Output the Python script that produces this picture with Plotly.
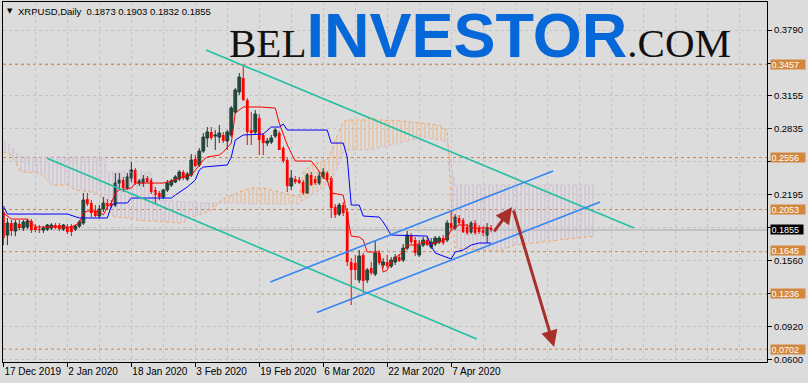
import pandas as pd
import plotly.graph_objects as go

# ---------------- data ----------------
start_date = "2019-12-17"

opens = [
    0.2029, 0.1806, 0.1922, 0.1845, 0.1913, 0.1874, 0.1884, 0.1942, 0.1884, 0.1864,
    0.1855, 0.1864, 0.1874, 0.1903, 0.1903, 0.1864, 0.1884, 0.1893, 0.1864, 0.1893,
    0.1922, 0.2154, 0.2116, 0.2038, 0.1990, 0.2058, 0.2116, 0.2116, 0.2096, 0.2309,
    0.2338, 0.2261, 0.2358, 0.2435, 0.2309, 0.2309, 0.2358, 0.2338, 0.2242, 0.2213,
    0.2174, 0.2242, 0.2290, 0.2319, 0.2348, 0.2416, 0.2348, 0.2387, 0.2542, 0.2484,
    0.2619, 0.2745, 0.2803, 0.2764, 0.2754, 0.2774, 0.2716, 0.2774, 0.2996, 0.3190,
    0.3325, 0.3112, 0.2822, 0.2803, 0.2938, 0.2774, 0.2696, 0.2706, 0.2764, 0.2793,
    0.2648, 0.2532, 0.2280, 0.2348, 0.2338, 0.2319, 0.2213, 0.2387, 0.2348, 0.2309,
    0.2368, 0.2406, 0.2358, 0.2077, 0.2009, 0.2096, 0.2029, 0.1545, 0.1535, 0.1371,
    0.1613, 0.1371, 0.1487, 0.1429, 0.1632, 0.1516, 0.1545, 0.1506, 0.1545, 0.1593,
    0.1564, 0.1680, 0.1806, 0.1758, 0.1613, 0.1709, 0.1758, 0.1690, 0.1719, 0.1738,
    0.1777, 0.1758, 0.1922, 0.1874, 0.1971, 0.1951, 0.1884, 0.1835, 0.1922, 0.1874,
    0.1855, 0.1806, 0.1873,
]
highs = [
    0.2067, 0.1971, 0.1951, 0.1951, 0.1951, 0.1951, 0.1961, 0.1961, 0.1913, 0.1903,
    0.1893, 0.1913, 0.1922, 0.1922, 0.1922, 0.1913, 0.1913, 0.1913, 0.1903, 0.1951,
    0.2213, 0.2213, 0.2145, 0.2096, 0.2096, 0.2174, 0.2154, 0.2145, 0.2406, 0.2406,
    0.2368, 0.2406, 0.2513, 0.2454, 0.2348, 0.2387, 0.2377, 0.2358, 0.2271, 0.2232,
    0.2251, 0.2338, 0.2348, 0.2387, 0.2435, 0.2435, 0.2416, 0.2590, 0.2580, 0.2648,
    0.2793, 0.2851, 0.2851, 0.2822, 0.2871, 0.2803, 0.2822, 0.3054, 0.3229, 0.3374,
    0.3450, 0.3132, 0.2996, 0.3016, 0.2977, 0.2793, 0.2745, 0.2774, 0.2841, 0.2812,
    0.2667, 0.2551, 0.2435, 0.2377, 0.2368, 0.2338, 0.2406, 0.2416, 0.2377, 0.2416,
    0.2454, 0.2425, 0.2377, 0.2106, 0.2116, 0.2125, 0.2067, 0.1584, 0.1613, 0.1661,
    0.1632, 0.1487, 0.1545, 0.1758, 0.1661, 0.1584, 0.1613, 0.1593, 0.1622, 0.1622,
    0.1719, 0.1845, 0.1826, 0.1787, 0.1758, 0.1787, 0.1787, 0.1777, 0.1796, 0.1796,
    0.1806, 0.1951, 0.2048, 0.2009, 0.2000, 0.1971, 0.1913, 0.1942, 0.1951, 0.1903,
    0.1893, 0.1922, 0.1903,
]
lows = [
    0.1709, 0.1709, 0.1796, 0.1796, 0.1855, 0.1845, 0.1864, 0.1826, 0.1835, 0.1826,
    0.1826, 0.1845, 0.1855, 0.1864, 0.1845, 0.1845, 0.1816, 0.1796, 0.1845, 0.1874,
    0.1903, 0.2087, 0.1980, 0.1980, 0.1971, 0.2029, 0.2048, 0.2067, 0.2077, 0.2242,
    0.2222, 0.2242, 0.2319, 0.2290, 0.2280, 0.2271, 0.2309, 0.2203, 0.2116, 0.2145,
    0.2154, 0.2222, 0.2271, 0.2309, 0.2329, 0.2338, 0.2329, 0.2368, 0.2464, 0.2464,
    0.2600, 0.2658, 0.2725, 0.2629, 0.2696, 0.2696, 0.2629, 0.2754, 0.2977, 0.3161,
    0.3103, 0.2677, 0.2677, 0.2783, 0.2580, 0.2580, 0.2667, 0.2687, 0.2745, 0.2629,
    0.2503, 0.2222, 0.2242, 0.2300, 0.2300, 0.2193, 0.2203, 0.2280, 0.2290, 0.2290,
    0.2348, 0.2319, 0.1971, 0.1971, 0.1990, 0.1990, 0.1506, 0.1129, 0.1371, 0.1342,
    0.1245, 0.1342, 0.1419, 0.1409, 0.1516, 0.1487, 0.1487, 0.1487, 0.1516, 0.1545,
    0.1545, 0.1661, 0.1719, 0.1603, 0.1593, 0.1690, 0.1700, 0.1671, 0.1700, 0.1719,
    0.1709, 0.1738, 0.1855, 0.1855, 0.1903, 0.1826, 0.1806, 0.1816, 0.1806, 0.1816,
    0.1796, 0.1729, 0.1832,
]
closes = [
    0.1777, 0.1922, 0.1845, 0.1922, 0.1874, 0.1932, 0.1942, 0.1855, 0.1855, 0.1855,
    0.1874, 0.1903, 0.1903, 0.1874, 0.1864, 0.1903, 0.1835, 0.1835, 0.1893, 0.1932,
    0.2145, 0.2106, 0.2019, 0.1990, 0.2058, 0.2116, 0.2087, 0.2087, 0.2309, 0.2338,
    0.2261, 0.2368, 0.2435, 0.2309, 0.2329, 0.2348, 0.2319, 0.2222, 0.2193, 0.2174,
    0.2242, 0.2309, 0.2329, 0.2368, 0.2416, 0.2358, 0.2396, 0.2532, 0.2474, 0.2619,
    0.2754, 0.2803, 0.2745, 0.2774, 0.2793, 0.2716, 0.2803, 0.3035, 0.3209, 0.3335,
    0.3112, 0.2803, 0.2793, 0.2977, 0.2725, 0.2696, 0.2716, 0.2745, 0.2822, 0.2629,
    0.2522, 0.2280, 0.2358, 0.2319, 0.2309, 0.2213, 0.2387, 0.2290, 0.2309, 0.2377,
    0.2416, 0.2338, 0.2067, 0.2000, 0.2096, 0.2019, 0.1545, 0.1468, 0.1468, 0.1603,
    0.1361, 0.1468, 0.1439, 0.1632, 0.1535, 0.1545, 0.1506, 0.1564, 0.1593, 0.1555,
    0.1680, 0.1806, 0.1738, 0.1632, 0.1709, 0.1758, 0.1709, 0.1738, 0.1777, 0.1777,
    0.1729, 0.1922, 0.1874, 0.1980, 0.1922, 0.1835, 0.1826, 0.1922, 0.1826, 0.1835,
    0.1826, 0.1874, 0.1855,
]

# Ichimoku lines (vertices: day offset from start, price)
tenkan_day = [0, 2, 6, 7, 8, 17, 19, 20, 21, 24, 25, 26, 27, 28, 29, 32, 33, 40, 42, 44,
              47, 48, 49, 50, 51, 54, 55, 57, 58, 59, 60, 64, 68, 69, 70, 71, 73, 77, 78, 80,
              81, 82, 85, 86, 87, 89, 90, 91, 94, 95, 96, 97, 98, 100, 101, 103, 105, 107, 109, 111,
              112, 114, 116, 117, 122]
tenkan_val = [0.2019, 0.1961, 0.1961, 0.1922, 0.1884, 0.1884, 0.1922, 0.2019, 0.2038, 0.2038,
              0.2000, 0.2077, 0.2116, 0.2213, 0.2242, 0.2261, 0.2309, 0.2309, 0.2329, 0.2358,
              0.2387, 0.2435, 0.2484, 0.2532, 0.2561, 0.2580, 0.2609, 0.2696, 0.2987, 0.3016,
              0.3045, 0.3045, 0.3035, 0.2890, 0.2793, 0.2677, 0.2522, 0.2522, 0.2474, 0.2368,
              0.2338, 0.2213, 0.2193, 0.2000, 0.1796, 0.1787, 0.1758, 0.1642, 0.1642, 0.1448,
              0.1467, 0.1545, 0.1584, 0.1642, 0.1709, 0.1709, 0.1738, 0.1719, 0.1738, 0.1777,
              0.1855, 0.1903, 0.1903, 0.1874, 0.1874]

kijun_day = [0, 1, 16, 19, 26, 27, 28, 31, 32, 42, 43, 45, 46, 48, 49, 50, 56, 57, 58, 60,
             65, 67, 69, 70, 71, 81, 82, 85, 86, 87, 89, 90, 94, 95, 97, 106, 107, 108, 112, 113,
             115, 117, 119, 122]
kijun_val = [0.2087, 0.2009, 0.2009, 0.1971, 0.1971, 0.2087, 0.2116, 0.2116, 0.2164, 0.2164,
             0.2193, 0.2242, 0.2271, 0.2338, 0.2435, 0.2464, 0.2484, 0.2561, 0.2725, 0.2774,
             0.2783, 0.2851, 0.2851, 0.2880, 0.2822, 0.2822, 0.2696, 0.2696, 0.2561, 0.2096,
             0.2096, 0.1990, 0.1980, 0.1932, 0.1806, 0.1796, 0.1700, 0.1632, 0.1574, 0.1642,
             0.1661, 0.1709, 0.1729, 0.1729]

cloud_day = [0, 2, 4, 5, 9, 11, 12, 16, 18, 22, 24, 25, 26, 27, 28, 32, 33, 37, 38, 41,
             45, 46, 49, 51, 52, 54, 55, 59, 62, 65, 69, 74, 75, 77, 81, 82, 83, 85, 86, 90,
             92, 94, 100, 105, 109, 111, 112, 113, 124, 128, 132, 139, 148]
span_a = [0.2609, 0.2580, 0.2435, 0.2416, 0.2406, 0.2338, 0.2290, 0.2290, 0.2242, 0.2222,
          0.2193, 0.2145, 0.2067, 0.2000, 0.1980, 0.1971, 0.1951, 0.1942, 0.1942, 0.1932,
          0.1922, 0.1971, 0.2000, 0.2029, 0.2048, 0.2125, 0.2154, 0.2222, 0.2261, 0.2261,
          0.2222, 0.2174, 0.2416, 0.2484, 0.2532, 0.2609, 0.2725, 0.2900, 0.2919, 0.2919,
          0.2938, 0.2919, 0.2909, 0.2890, 0.2871, 0.2822, 0.2145, 0.1680, 0.1651, 0.1709,
          0.1729, 0.1758, 0.1796]
span_b = [0.2716, 0.2667, 0.2561, 0.2561, 0.2561, 0.2561, 0.2561, 0.2561, 0.2561, 0.2561,
          0.2561, 0.2561, 0.2416, 0.2416, 0.2416, 0.2416, 0.2416, 0.2416, 0.2145, 0.2135,
          0.2125, 0.2125, 0.2116, 0.2116, 0.2116, 0.2116, 0.2116, 0.2116, 0.2106, 0.2106,
          0.2106, 0.2106, 0.2145, 0.2193, 0.2290, 0.2338, 0.2416, 0.2609, 0.2629, 0.2629,
          0.2638, 0.2648, 0.2706, 0.2754, 0.2725, 0.2706, 0.2474, 0.2290, 0.2290, 0.2290,
          0.2290, 0.2290, 0.2290]

# horizontal levels and current price
levels = [0.3457, 0.2556, 0.2053, 0.1645, 0.1236, 0.0702]
level_labels = ["0.3457", "0.2556", "0.2053", "0.1645", "0.1236", "0.0702"]
current_price = 0.1855
current_label = "0.1855"

# drawn trend lines (start date, end date, start price, end price)
teal_lines = [("2020-02-05 16:48", "2020-05-22 18:00", 0.3596, 0.1874),
              ("2019-12-27 21:36", "2020-04-13 09:36", 0.2549, 0.0800)]
blue_lines = [("2020-02-21 18:00", "2020-05-02 12:00", 0.1352, 0.2425),
              ("2020-03-04 09:36", "2020-05-14 06:00", 0.1056, 0.2126)]
arrows = [("2020-04-17 12:00", 0.1826, "2020-04-22 06:00", 0.2077),
          ("2020-04-22 12:00", 0.2058, "2020-05-02 18:00", 0.0723)]

# axes (labels hidden under the level boxes are left blank)
y_tickvals = [0.0600, 0.0920, 0.1240, 0.1560, 0.1875, 0.2195, 0.2515, 0.2835, 0.3155, 0.3470, 0.3790]
y_ticktext = ["0.0600", "0.0920", "", "0.1560", "", "0.2195", "", "0.2835", "0.3155", "", "0.3790"]
x_tickvals = ["2019-12-17", "2020-01-02", "2020-01-18", "2020-02-03", "2020-02-19", "2020-03-06", "2020-03-22", "2020-04-07"]
x_ticktext = ["17 Dec 2019", "2 Jan 2020", "18 Jan 2020", "3 Feb 2020", "19 Feb 2020", "6 Mar 2020", "22 Mar 2020", "7 Apr 2020"]
title_text = "XRPUSD,Daily  0.1873 0.1903 0.1832 0.1855"

# ---------------- build ----------------
t0 = pd.Timestamp(start_date)


def day(d):
    return t0 + pd.Timedelta(days=d)


dates = [day(i) for i in range(len(closes))]

BG = "#DCDCDC"
GRID = "#C3C3C3"
ORANGE = "#D2873F"
BULL_FILL = "#336656"
BULL_LINE = "#1E3A32"
BEAR = "#FF0000"
TEAL = "#22C0A2"
CHBLUE = "#3585F2"
ARROW = "#A8302A"
FONT = "Liberation Sans"

fig = go.Figure()

# Cloud hatching
cdates = [day(d) for d in cloud_day]
n = len(cloud_day)
sign = [a >= b for a, b in zip(span_a, span_b)]
segs = []
lo = 0
cur = sign[0]
for i in range(1, n):
    if sign[i] != cur:
        segs.append((lo, i, cur))
        lo = i - 1
        cur = sign[i]
segs.append((lo, n - 1, cur))
for lo, hi, up in segs:
    xs = cdates[lo:hi + 1] + cdates[lo:hi + 1][::-1]
    ys = span_a[lo:hi + 1] + span_b[lo:hi + 1][::-1]
    col = "#F2B27C" if up else "#CBB3CD"
    fig.add_trace(go.Scatter(
        x=xs, y=ys, mode="lines", fill="toself", line=dict(width=0),
        fillcolor="rgba(0,0,0,0)",
        fillpattern=dict(shape="|", fgcolor=col, bgcolor="rgba(0,0,0,0)", size=4,
                         solidity=0.25, fgopacity=0.85),
        hoverinfo="skip"))

fig.add_trace(go.Scatter(x=cdates, y=span_a, mode="lines",
                         line=dict(color="#F4A460", width=1, dash="dot"), hoverinfo="skip"))
fig.add_trace(go.Scatter(x=cdates, y=span_b, mode="lines",
                         line=dict(color="#D2B6D4", width=1, dash="dot"), hoverinfo="skip"))

# Candles
bull_wx, bull_wy, bear_wx, bear_wy = [], [], [], []
bull_x, bull_base, bull_h = [], [], []
bear_x, bear_base, bear_h = [], [], []
for dt, o, h, l, c in zip(dates, opens, highs, lows, closes):
    if c >= o:
        bull_wx += [dt, dt, None]
        bull_wy += [l, h, None]
        bull_x.append(dt)
        bull_base.append(o)
        bull_h.append(max(c - o, 0.0006))
    else:
        bear_wx += [dt, dt, None]
        bear_wy += [l, h, None]
        bear_x.append(dt)
        bear_base.append(c)
        bear_h.append(max(o - c, 0.0006))

fig.add_trace(go.Scatter(x=bull_wx, y=bull_wy, mode="lines", line=dict(color=BULL_LINE, width=1),
                         connectgaps=False, hoverinfo="skip"))
fig.add_trace(go.Scatter(x=bear_wx, y=bear_wy, mode="lines", line=dict(color=BEAR, width=1),
                         connectgaps=False, hoverinfo="skip"))
bar_w = 0.7 * 86400000
fig.add_trace(go.Bar(x=bull_x, y=bull_h, base=bull_base, width=bar_w,
                     marker=dict(color=BULL_FILL, line=dict(color=BULL_LINE, width=1)), hoverinfo="skip"))
fig.add_trace(go.Bar(x=bear_x, y=bear_h, base=bear_base, width=bar_w,
                     marker=dict(color=BEAR, line=dict(width=0)), hoverinfo="skip"))

# Tenkan / Kijun
fig.add_trace(go.Scatter(x=[day(d) for d in tenkan_day], y=tenkan_val, mode="lines",
                         line=dict(color="#FF0000", width=1), hoverinfo="skip"))
fig.add_trace(go.Scatter(x=[day(d) for d in kijun_day], y=kijun_val, mode="lines",
                         line=dict(color="#0000FF", width=1), hoverinfo="skip"))

# Trend lines
for x0, x1, y0, y1 in teal_lines:
    fig.add_trace(go.Scatter(x=[x0, x1], y=[y0, y1], mode="lines",
                             line=dict(color=TEAL, width=1.6), hoverinfo="skip"))
for x0, x1, y0, y1 in blue_lines:
    fig.add_trace(go.Scatter(x=[x0, x1], y=[y0, y1], mode="lines",
                             line=dict(color=CHBLUE, width=1.6), hoverinfo="skip"))

shapes = []
for lv in levels:
    shapes.append(dict(type="line", xref="paper", x0=0, x1=1, yref="y", y0=lv, y1=lv,
                       line=dict(color=ORANGE, width=1, dash="3px,3px"), layer="below"))
shapes.append(dict(type="line", xref="paper", x0=0, x1=1, yref="y", y0=current_price, y1=current_price,
                   line=dict(color="#A9A9A9", width=1), layer="below"))

annotations = []
for lv, txt in zip(levels, level_labels):
    annotations.append(dict(xref="paper", x=1, xanchor="left", xshift=3, yref="y", y=lv, yanchor="middle",
                            yshift=1 if txt == "0.1645" else 0,
                            text=txt, showarrow=False, bgcolor=ORANGE, width=33, height=8, borderpad=0.5,
                            align="left", font=dict(family=FONT, size=9, color="white")))
annotations.append(dict(xref="paper", x=1, xanchor="left", xshift=3, yref="y", y=current_price, yanchor="middle",
                        text=current_label, showarrow=False, bgcolor="#000000", width=31, height=8, borderpad=0.5,
                        align="left", font=dict(family=FONT, size=9, color="white")))

for tx, ty, hx, hy in arrows:
    annotations.append(dict(x=hx, y=hy, xref="x", yref="y", ax=tx, ay=ty, axref="x", ayref="y",
                            text="", showarrow=True, arrowhead=2, arrowsize=1.1, arrowwidth=3,
                            arrowcolor=ARROW))

# title
annotations.append(dict(xref="paper", yref="paper", x=(9.5 - 3) / 764, y=(362 - 11) / 360,
                        xanchor="center", yanchor="middle", text="▼", showarrow=False,
                        font=dict(family="DejaVu Sans", size=7, color="black")))
annotations.append(dict(xref="paper", yref="paper", x=(16 - 3) / 764, y=(362 - 11) / 360,
                        xanchor="left", yanchor="middle", text=title_text, showarrow=False,
                        font=dict(family=FONT, size=9.5, color="black")))

# watermark
wm = ('<span style="font-family:Liberation Serif;font-size:41px;color:#111111">BEL</span>'
      '<span style="font-family:Liberation Sans;font-size:63px;font-weight:bold;color:#0567D8">INVESTOR</span>'
      '<span style="font-family:Liberation Serif;font-size:41px;color:#111111">.COM</span>')
annotations.append(dict(xref="paper", yref="paper", x=(227 - 3) / 764, y=(362 - 72) / 360,
                        xanchor="left", yanchor="bottom", text=wm, showarrow=False))

x_start = day(-0.1)
x_end = day(191.0)
y_lo = 0.408028 - 362 * 0.0009676
y_hi = 0.408028 - 2 * 0.0009676

fig.update_layout(
    width=808, height=383,
    margin=dict(l=3, r=41, t=2, b=21),
    paper_bgcolor=BG, plot_bgcolor=BG,
    showlegend=False, barmode="overlay", hovermode=False,
    shapes=shapes, annotations=annotations,
    font=dict(family=FONT, size=10, color="black"),
)
fig.update_xaxes(
    type="date", range=[x_start, x_end],
    tickmode="array", tickvals=x_tickvals, ticktext=x_ticktext,
    ticks="outside", ticklen=4, tickcolor="black", ticklabelposition="outside right",
    showgrid=True, gridcolor=GRID, griddash="3px,3px", gridwidth=1,
    minor=dict(tick0=start_date, dtick=8 * 86400000, showgrid=True, gridcolor=GRID,
               griddash="3px,3px", ticks=""),
    showline=True, linecolor="black", linewidth=1, mirror=True, zeroline=False,
    tickfont=dict(family=FONT, size=10, color="black"),
)
fig.update_yaxes(
    side="right", range=[y_lo, y_hi],
    tickmode="array", tickvals=y_tickvals, ticktext=y_ticktext,
    ticks="outside", ticklen=4, tickcolor="black",
    showgrid=True, gridcolor=GRID, griddash="3px,3px", gridwidth=1,
    showline=True, linecolor="black", linewidth=1, mirror=True, zeroline=False,
    tickfont=dict(family=FONT, size=9.5, color="black"),
)

fig.write_html("out.html")
